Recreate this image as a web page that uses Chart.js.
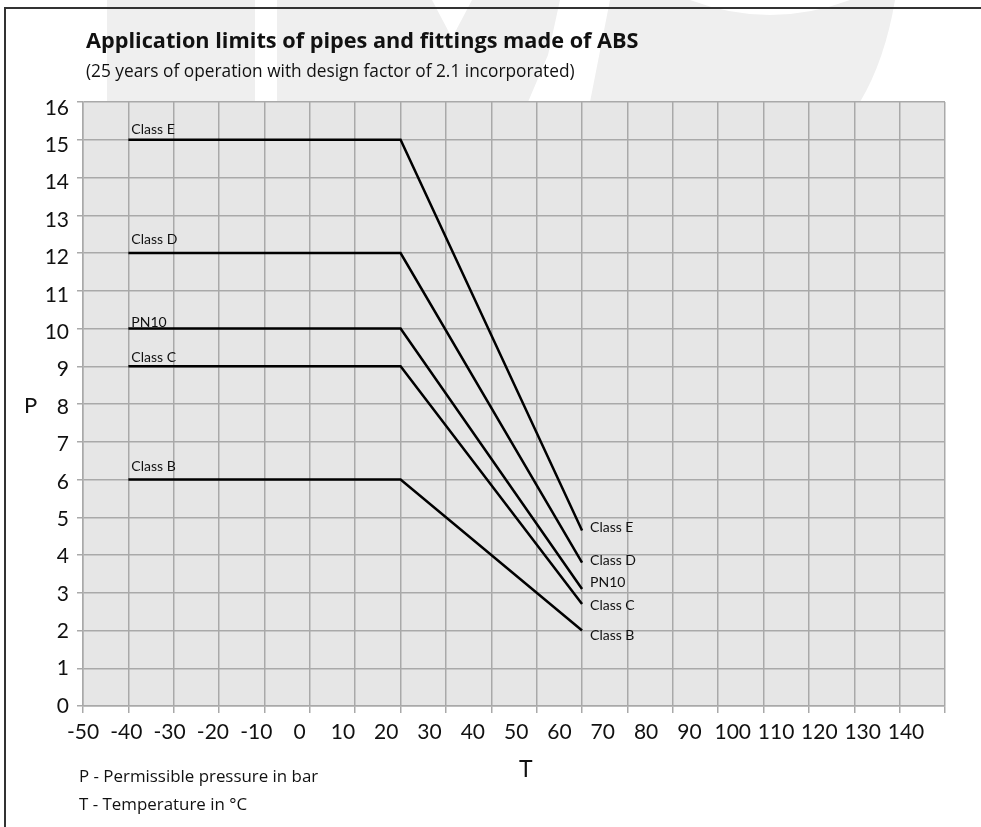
<!DOCTYPE html>
<html><head><meta charset="utf-8">
<script src="https://cdn.jsdelivr.net/npm/chart.js@4"></script>
<style>
html,body{margin:0;padding:0;background:#fff;}
#wrap{position:relative;width:981px;height:827px;overflow:hidden;font-family:"Open Sans", "Noto Sans", sans-serif;color:#111;}
#box{position:absolute;left:0;top:0;width:981px;height:827px;}
.t{position:absolute;white-space:nowrap;line-height:1;}
.lato{font-family:Lato, sans-serif;}
.frame-top{position:absolute;left:4px;top:7px;width:977px;height:2px;background:#333;}
.frame-left{position:absolute;left:4px;top:7px;width:2px;height:820px;background:#333;}
</style></head><body>
<div id="wrap">
<div id="box"><canvas id="c"></canvas></div>
<div class="frame-top"></div><div class="frame-left"></div>
<div class="t" style="left:86px;top:28.7px;font-size:21.7px;font-weight:bold;">Application limits of pipes and fittings made of ABS</div>
<div class="t" style="left:86px;top:61.6px;font-size:17.3px;">(25 years of operation with design factor of 2.1 incorporated)</div>
<div class="t lato" style="left:24px;top:393.5px;font-size:22px;">P</div>
<div class="t lato" style="left:519px;top:757px;font-size:23px;">T</div>
<div class="t" style="left:79px;top:767.7px;font-size:16.9px;">P - Permissible pressure in bar</div>
<div class="t" style="left:79px;top:795.7px;font-size:16.9px;">T - Temperature in °C</div>
</div>
<script>
// ---- data ----
const temperatures = [-40, 20, 60];
const classNames = ['Class E', 'Class D', 'PN10', 'Class C', 'Class B'];
const classE = [15, 15, 4.65];
const classD = [12, 12, 3.8];
const pn10   = [10, 10, 3.1];
const classC = [9, 9, 2.7];
const classB = [6, 6, 2.0];
const xTickLabels = [-50,-40,-30,-20,-10,0,10,20,30,40,50,60,70,80,90,100,110,120,130,140];
const yTickLabels = [0,1,2,3,4,5,6,7,8,9,10,11,12,13,14,15,16];

// ---- label layout tweaks (pixels) ----
const startLabelDy = [-6, -9, -2, -4, -9];
const endLabelDy = [-3, -2, -6, 1, 5];

const seriesValues = [classE, classD, pn10, classC, classB];
const GRID = '#a9a9a9';
const FONT = 'Lato';

const watermark = {
  id: 'watermark',
  beforeDraw(chart) {
    const ctx = chart.ctx;
    ctx.save();
    ctx.fillStyle = '#efefef';
    ctx.fillRect(107, 0, 148, 102);
    ctx.beginPath();
    ctx.moveTo(277, 0); ctx.lineTo(432, 0); ctx.lineTo(452, 38); ctx.lineTo(472, 0);
    ctx.lineTo(560, 0); ctx.lineTo(548, 55); ctx.lineTo(528, 102); ctx.lineTo(277, 102);
    ctx.closePath(); ctx.fill();
    ctx.beginPath();
    ctx.moveTo(610, 0); ctx.lineTo(690, 0);
    ctx.quadraticCurveTo(770, 30, 850, 0);
    ctx.lineTo(895, 0);
    ctx.quadraticCurveTo(885, 60, 860, 102);
    ctx.lineTo(590, 102); ctx.closePath(); ctx.fill();
    // plot background
    const a = chart.chartArea;
    ctx.fillStyle = '#e6e6e6';
    ctx.fillRect(a.left, a.top, a.right - a.left, a.bottom - a.top);
    ctx.restore();
  }
};

const classLabels = {
  id: 'classLabels',
  afterDatasetsDraw(chart) {
    const ctx = chart.ctx;
    ctx.save();
    ctx.fillStyle = '#111';
    ctx.font = '14px ' + FONT;
    chart.data.datasets.forEach((ds, i) => {
      const pts = chart.getDatasetMeta(i).data;
      const p0 = pts[0], pn = pts[pts.length - 1];
      ctx.textAlign = 'left';
      ctx.textBaseline = 'alphabetic';
      ctx.fillText(ds.label, p0.x + 3, p0.y + startLabelDy[i]);
      ctx.textBaseline = 'middle';
      ctx.fillText(ds.label, pn.x + 8, pn.y + endLabelDy[i]);
    });
    ctx.restore();
  }
};

const setTicks = arr => s => { s.ticks = arr.map(v => ({ value: v })); };

new Chart(document.getElementById('c'), {
  type: 'line',
  data: {
    datasets: seriesValues.map((vals, i) => ({
      label: classNames[i],
      data: temperatures.map((t, j) => ({ x: t, y: vals[j] })),
      borderColor: '#000',
      borderWidth: 2.5,
      pointRadius: 0,
      fill: false,
      tension: 0,
      xAxisID: 'x',
      yAxisID: 'y'
    }))
  },
  options: {
    responsive: true,
    maintainAspectRatio: false,
    animation: false,
    layout: { padding: { left: 0, top: 102, right: 36, bottom: 74 } },
    plugins: { legend: { display: false }, tooltip: { enabled: false }, title: { display: false } },
    scales: {
      x: {
        type: 'linear', position: 'bottom', weight: 0, min: -50, max: 140,
        afterBuildTicks: setTicks(xTickLabels),
        grid: { color: GRID, lineWidth: 1.5, tickLength: 7, drawTicks: true },
        border: { color: GRID, width: 1.5 },
        ticks: { display: false },
        afterFit: s => { s.height = 7; }
      },
      x2: {
        type: 'linear', position: 'bottom', weight: 1, min: -50, max: 149,
        afterBuildTicks: setTicks(xTickLabels),
        grid: { display: false, drawTicks: false },
        border: { display: false },
        ticks: { font: { family: FONT, size: 21 }, color: '#111', padding: 7, maxRotation: 0, autoSkip: false },
        afterFit: s => { s.height = 40; }
      },
      y: {
        type: 'linear', position: 'left', weight: 0, min: 0, max: 16,
        afterBuildTicks: setTicks(yTickLabels),
        grid: { color: GRID, lineWidth: 1.5, tickLength: 6, drawTicks: true },
        border: { color: GRID, width: 1.5 },
        ticks: { display: false },
        afterFit: s => { s.width = 7; }
      },
      y2: {
        type: 'linear', position: 'left', weight: 1, min: 0, max: 16.16,
        afterBuildTicks: setTicks(yTickLabels),
        grid: { display: false, drawTicks: false },
        border: { display: false },
        ticks: { font: { family: FONT, size: 21 }, color: '#111', padding: 7, autoSkip: false },
        afterFit: s => { s.width = 76; }
      }
    }
  },
  plugins: [watermark, classLabels]
});
</script>
</body></html>
